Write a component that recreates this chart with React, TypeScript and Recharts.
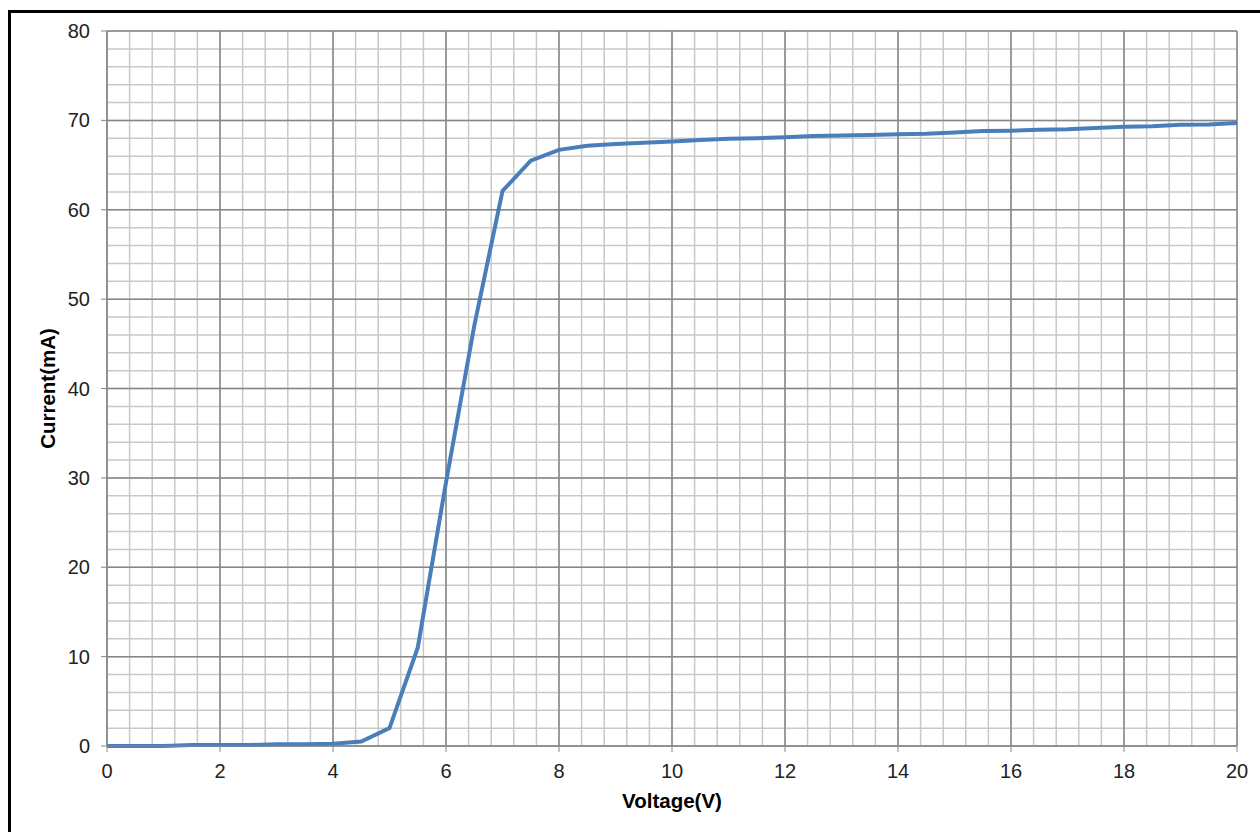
import { LineChart, Line, XAxis, YAxis, CartesianGrid, Label } from "recharts";

const voltage = [0, 0.5, 1, 1.5, 2, 2.5, 3, 3.5, 4, 4.5, 5, 5.5, 6, 6.5, 7, 7.5, 8, 8.5, 9, 9.5, 10, 10.5, 11, 11.5, 12, 12.5, 13, 13.5, 14, 14.5, 15, 15.5, 16, 16.5, 17, 17.5, 18, 18.5, 19, 19.5, 20];
const current = [0, 0, 0, 0.1, 0.1, 0.1, 0.2, 0.2, 0.25, 0.5, 2, 11, 29.5, 47, 62.1, 65.5, 66.7, 67.15, 67.35, 67.5, 67.65, 67.8, 67.95, 68.0, 68.1, 68.25, 68.3, 68.35, 68.45, 68.5, 68.65, 68.8, 68.85, 68.95, 69.0, 69.15, 69.3, 69.35, 69.5, 69.55, 69.7];

const xTicks = [0, 2, 4, 6, 8, 10, 12, 14, 16, 18, 20];
const yTicks = [0, 10, 20, 30, 40, 50, 60, 70, 80];
// light grid: 5 cells per labelled step
const xMinor = Array.from({ length: 51 }, (_, i) => Number((i * 0.4).toFixed(1)));
const yMinor = Array.from({ length: 41 }, (_, i) => i * 2);

const data = voltage.map((v, i) => ({ v, i: current[i] }));

const font = "'Liberation Sans', Arial, sans-serif";
const axisGray = "#878787";

const YTitle = ({ viewBox }: any) => {
    const cx = 47;
    const cy = viewBox.y + viewBox.height / 2;
    return (
        <text x={cx} y={cy} transform={`rotate(-90 ${cx} ${cy})`} textAnchor="middle" dominantBaseline="central" fontFamily={font} fontWeight="bold" fontSize={20.5} fill="#000">
            Current(mA)
        </text>
    );
};

const XTitle = ({ viewBox }: any) => {
    const cx = viewBox.x + viewBox.width / 2;
    const cy = viewBox.y + 54;
    return (
        <text x={cx} y={cy} textAnchor="middle" dominantBaseline="central" fontFamily={font} fontWeight="bold" fontSize={20.5} fill="#000">
            Voltage(V)
        </text>
    );
};

export default function App() {
    return (
        <div style={{ position: "fixed", left: 0, top: 0, width: 1260, height: 832, overflow: "hidden", background: "#fff" }}>
            <div style={{ position: "absolute", left: 8, top: 10, width: 1300, height: 900, borderLeft: "3px solid #000", borderTop: "3px solid #000" }} />
            <div style={{ position: "absolute", left: 0, top: 0 }}>
                <LineChart width={1260} height={832} data={data} margin={{ top: 31, right: 23, bottom: 46, left: 37 }}>
                    <XAxis xAxisId="minor" type="number" dataKey="v" domain={[0, 20]} ticks={xMinor} interval={0} hide />
                    <YAxis yAxisId="minor" type="number" dataKey="i" domain={[0, 80]} ticks={yMinor} interval={0} hide />
                    <CartesianGrid xAxisId="minor" yAxisId="minor" stroke="#c9c9c9" strokeWidth={1.5} />
                    <CartesianGrid stroke={axisGray} strokeWidth={1.5} />
                    <XAxis
                        type="number"
                        dataKey="v"
                        domain={[0, 20]}
                        ticks={xTicks}
                        interval={0}
                        height={40}
                        stroke={axisGray}
                        tickSize={6}
                        tickMargin={12}
                        tick={{ fill: "#222", fontSize: 20, fontFamily: font }}
                    >
                        <Label content={<XTitle />} />
                    </XAxis>
                    <YAxis
                        type="number"
                        domain={[0, 80]}
                        ticks={yTicks}
                        interval={0}
                        width={70}
                        stroke={axisGray}
                        tickSize={6}
                        tickMargin={11}
                        tick={{ fill: "#222", fontSize: 20, fontFamily: font }}
                    >
                        <Label content={<YTitle />} />
                    </YAxis>
                    <Line type="linear" dataKey="i" stroke="#4A7EBB" strokeWidth={4} dot={false} isAnimationActive={false} />
                </LineChart>
            </div>
        </div>
    );
}
